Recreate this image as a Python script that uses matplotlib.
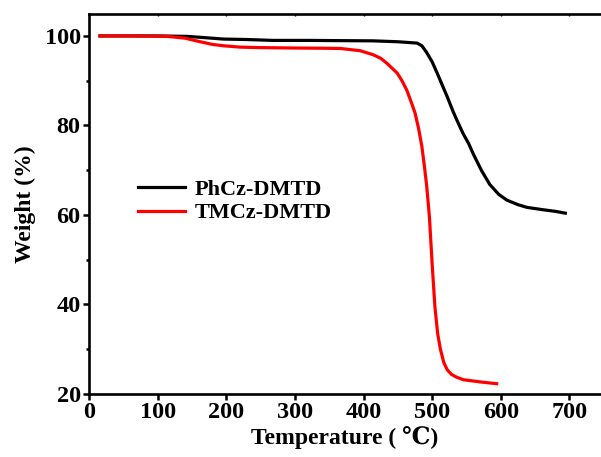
import matplotlib
matplotlib.use("Agg")
import matplotlib.pyplot as plt
from matplotlib.ticker import MultipleLocator

# Data
ph_temp = [16, 60, 100, 143, 170, 196, 230, 268, 320, 366, 414, 450, 478, 485, 492, 500, 507, 515, 522, 530, 536, 545, 553, 560, 572, 584, 597, 609, 625, 638, 660, 680, 694]
ph_weight = [100.0, 100.0, 100.0, 99.9, 99.6, 99.3, 99.2, 99.0, 99.0, 98.95, 98.9, 98.7, 98.4, 97.8, 96.3, 94.2, 91.8, 88.9, 86.4, 83.3, 81.2, 78.2, 76.0, 73.6, 69.9, 66.8, 64.6, 63.3, 62.3, 61.7, 61.2, 60.8, 60.4]

tm_temp = [16, 60, 114, 140, 162, 180, 196, 220, 245, 300, 341, 366, 395, 414, 425, 434, 449, 456, 463, 470, 475, 480, 485, 489, 492, 496, 500, 504, 508, 512, 517, 522, 528, 535, 545, 570, 594]
tm_weight = [100.0, 100.0, 99.9, 99.5, 98.7, 98.1, 97.8, 97.5, 97.4, 97.3, 97.25, 97.2, 96.7, 95.8, 95.0, 93.9, 91.7, 90.0, 87.9, 85.0, 82.8, 79.5, 75.3, 70.5, 66.5, 59.6, 49.0, 39.5, 33.5, 30.0, 27.0, 25.4, 24.4, 23.8, 23.2, 22.7, 22.3]

labels = ["PhCz-DMTD", "TMCz-DMTD"]
xlabel = "Temperature ( \u2103)"
ylabel = "Weight (%)"

plt.rcParams['font.family'] = ['Liberation Serif', 'DejaVu Serif']
plt.rcParams['font.weight'] = 'bold'

fig = plt.figure(figsize=(6.01, 4.57), dpi=100)
ax = fig.add_axes([89/601, 1-394/457, 1-89/601, (394-14)/457])

ax.plot(ph_temp, ph_weight, color='black', lw=2.3, label=labels[0])
ax.plot(tm_temp, tm_weight, color='#ff0000', lw=2.3, label=labels[1])

ax.set_xlim(0, 746)
ax.set_ylim(20, 104.9)
ax.xaxis.set_major_locator(MultipleLocator(100))
ax.yaxis.set_major_locator(MultipleLocator(20))
ax.yaxis.set_minor_locator(MultipleLocator(10))

for s in ['left', 'bottom', 'top']:
    ax.spines[s].set_linewidth(1.9)
ax.spines['right'].set_visible(False)

ax.tick_params(axis='both', which='major', direction='out', length=4, width=1.8, labelsize=17.5, pad=2)
ax.tick_params(axis='y', which='minor', direction='out', length=2.5, width=1.8)
ax.tick_params(axis='x', which='major', top=True, labeltop=False)
for t in ax.xaxis.get_major_ticks():
    t.tick2line.set_marker(matplotlib.lines.TICKDOWN)
    t.tick2line.set_markersize(1.5)
    t.tick2line.set_markeredgewidth(1.0)

for lab in ax.get_xticklabels() + ax.get_yticklabels():
    lab.set_fontweight('bold')

ax.set_xlabel(xlabel, fontsize=17, fontweight='bold', labelpad=2)
ax.set_ylabel(ylabel, fontsize=17, fontweight='bold', labelpad=6)

leg = ax.legend(loc='upper left', bbox_to_anchor=((141-89)/512 - 0.005, 1-(179-14)/380), frameon=False,
                prop={'size': 16, 'weight': 'bold'}, handlelength=2.1, handletextpad=0.45,
                labelspacing=0.15, borderpad=0, borderaxespad=0)

fig.savefig('out.png', dpi=100)
